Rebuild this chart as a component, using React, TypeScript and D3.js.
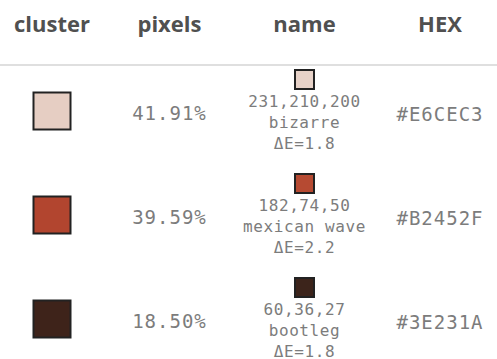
import React from "react";
import * as d3 from "d3";

const headers = ["cluster", "pixels", "name", "HEX"];
const hexCodes = ["#E6CEC3", "#B2452F", "#3E231A"];
const pixelShares = [41.91, 39.59, 18.5];
const rgbValues: [number, number, number][] = [
  [231, 210, 200],
  [182, 74, 50],
  [60, 36, 27],
];
const colorNames = ["bizarre", "mexican wave", "bootleg"];
const deltaE = [1.8, 2.2, 1.8];

const W = 497;
const H = 359;
const MONO = "'DejaVu Sans Mono', monospace";

export default function App() {
  const x = d3.scaleOrdinal<string, number>().domain(headers).range([52, 169.5, 304.5, 440]);
  const rows = d3.range(hexCodes.length).map(String);
  const y = d3.scaleBand<string>().domain(rows).range([59, 371]).paddingInner(0);
  const cy = (i: number) => (y(String(i)) as number) + y.bandwidth() / 2;
  const fmtPct = (v: number) => d3.format(".2f")(v) + "%";
  const big = 39;
  const small = 21;
  return (
    <svg
      width={W}
      height={H}
      style={{ position: "absolute", left: 0, top: 0, background: "#fff" }}
    >
      <rect x={0} y={0} width={W} height={H} fill="#fff" />
      {headers.map((h) => (
        <text
          key={h}
          x={x(h)}
          y={32}
          textAnchor="middle"
          fontFamily="'Open Sans', sans-serif"
          fontWeight={700}
          fontSize={22}
          fill="#505050"
        >
          {h}
        </text>
      ))}
      <line x1={0} x2={W} y1={65} y2={65} stroke="#d4d4d4" strokeWidth={1.5} />
      {hexCodes.map((hex, i) => {
        const c = cy(i);
        const rgb = rgbValues[i];
        return (
          <g key={hex}>
            <rect
              x={x("cluster") - big / 2 + 1}
              y={c - big / 2 + 1}
              width={big - 2}
              height={big - 2}
              fill={hex}
              stroke="#222"
              strokeWidth={2}
            />
            <text
              x={x("pixels")}
              y={c + 8.5}
              textAnchor="middle"
              fontFamily={MONO}
              fontSize={19}
              letterSpacing={1}
              fill="#7c7c7c"
            >
              {fmtPct(pixelShares[i])}
            </text>
            <rect
              x={x("name") - small / 2 + 1}
              y={c - 42 + 1}
              width={small - 2}
              height={small - 2}
              fill={d3.rgb(rgb[0], rgb[1], rgb[2]).formatHex()}
              stroke="#222"
              strokeWidth={2}
            />
            {[rgb.join(","), colorNames[i], "ΔE=" + deltaE[i].toFixed(1)].map((t, j) => (
              <text
                key={j}
                x={x("name")}
                y={c - 4.5 + j * 21}
                textAnchor="middle"
                fontFamily={MONO}
                fontSize={16}
                letterSpacing={0.6}
                fill="#7c7c7c"
              >
                {t}
              </text>
            ))}
            <text
              x={x("HEX")}
              y={c + 10}
              textAnchor="middle"
              fontFamily={MONO}
              fontSize={19}
              letterSpacing={1}
              fill="#7c7c7c"
            >
              {hex}
            </text>
          </g>
        );
      })}
    </svg>
  );
}
